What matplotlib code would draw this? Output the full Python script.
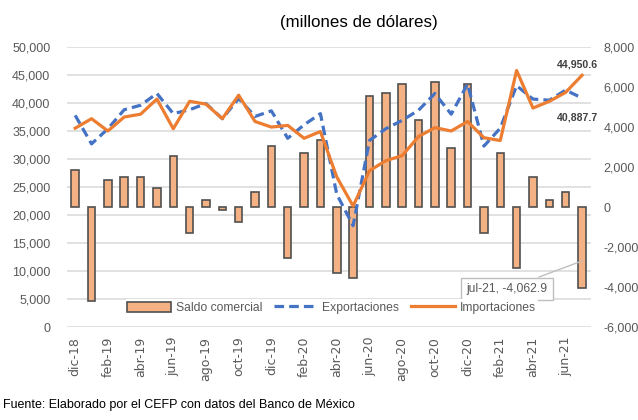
import numpy as np
import matplotlib
matplotlib.use("Agg")
import matplotlib.pyplot as plt
from matplotlib.transforms import blended_transform_factory
from matplotlib.ticker import FuncFormatter

plt.rcParams['font.family'] = ['Liberation Sans', 'DejaVu Sans']

# monthly data, dic-18 .. jul-21 (millones de dolares)
months = ["dic-18", "ene-19", "feb-19", "mar-19", "abr-19", "may-19", "jun-19", "jul-19",
          "ago-19", "sep-19", "oct-19", "nov-19", "dic-19", "ene-20", "feb-20", "mar-20",
          "abr-20", "may-20", "jun-20", "jul-20", "ago-20", "sep-20", "oct-20", "nov-20",
          "dic-20", "ene-21", "feb-21", "mar-21", "abr-21", "may-21", "jun-21", "jul-21"]

exportaciones = [37800, 32700, 35400, 38800, 39600, 41700, 38100, 38800,
                 39900, 37200, 40800, 37600, 38600, 33700, 36100, 38100,
                 23700, 18100, 33300, 35400, 36900, 38700, 41700, 38000,
                 43400, 32300, 35500, 43100, 40700, 40500, 42300, 40887.7]

importaciones = [35500, 37200, 35000, 37500, 38000, 40700, 35400, 40300,
                 39800, 37200, 41400, 36700, 35700, 36000, 33700, 34900,
                 26800, 21600, 27900, 29700, 30600, 34000, 35600, 35000,
                 36700, 33800, 33300, 45800, 39100, 40300, 41900, 44950.6]

saldo = [1850, -4700, 1330, 1500, 1500, 970, 2530, -1300,
         370, -170, -770, 750, 3070, -2550, 2700, 3330,
         -3300, -3550, 5530, 5700, 6170, 4370, 6250, 2970,
         6170, -1280, 2700, -3030, 1500, 330, 770, -4062.9]

left_ticks = np.arange(0, 50001, 5000)
right_ticks = np.arange(-6000, 8001, 2000)

gray = "#595959"
x = np.arange(len(months))

fig = plt.figure(figsize=(6.38, 4.2), dpi=100)
# bars live on the bottom axes (right scale), lines on the twin (left scale)
ax = fig.add_axes([67 / 638, 93 / 420, 524 / 638, 280 / 420])
axl = ax.twinx()
ax.yaxis.tick_right()
ax.yaxis.set_label_position("right")
axl.yaxis.tick_left()
axl.yaxis.set_label_position("left")

# gridlines follow the left scale but sit behind the bars
tr = blended_transform_factory(ax.transAxes, axl.transData)
for v in left_ticks:
    ax.plot([0, 1], [v, v], color="#D9D9D9", lw=1.1, transform=tr, zorder=0)

bars = ax.bar(x, saldo, width=0.46, color="#F4B183", edgecolor="#505050", linewidth=1.2,
              label="Saldo comercial", zorder=2)
l1, = axl.plot(x, exportaciones, color="#4472C4", lw=2.3, ls=(0, (3, 1.6)),
               label="Exportaciones", zorder=3)
l2, = axl.plot(x, importaciones, color="#ED7D31", lw=2.3, label="Importaciones", zorder=3)

ax.set_xlim(-0.5, 31.55)
ax.set_ylim(-6000, 8000)
axl.set_ylim(0, 50000)
ax.set_yticks(right_ticks)
axl.set_yticks(left_ticks)
fmt = FuncFormatter(lambda v, p: f"{v:,.0f}")
ax.yaxis.set_major_formatter(fmt)
axl.yaxis.set_major_formatter(fmt)

ax.set_xticks(x[::2])
ax.set_xticklabels(months[::2], rotation=90, family="DejaVu Sans", fontsize=7.6, color=gray)
for a in (ax, axl):
    for s in a.spines.values():
        s.set_visible(False)
    a.tick_params(length=0, labelsize=9, labelcolor=gray)
ax.tick_params(axis="x", pad=7)
ax.tick_params(axis="y", pad=9)
axl.tick_params(axis="y", pad=12)

# data labels
axl.text(30.7, exportaciones[-1] - 3500, f"{exportaciones[-1]:,.1f}", ha="center",
         va="center", fontsize=7.6, fontweight="bold", color="#404040")
axl.text(30.7, importaciones[-1] + 1900, f"{importaciones[-1]:,.1f}", ha="center",
         va="center", fontsize=7.6, fontweight="bold", color="#404040")
ax.annotate(f"{months[-1]}, {saldo[-1]:,.1f}", xy=(x[-1], -2700),
            xytext=(26.4, -4100), ha="center", va="center", fontsize=8.7, color=gray,
            bbox=dict(boxstyle="square,pad=0.45", fc="white", ec="#BFBFBF", lw=1),
            arrowprops=dict(arrowstyle="-", color="#BFBFBF", lw=1, shrinkA=0, shrinkB=0),
            zorder=5)

leg = axl.legend(handles=[bars, l1, l2], loc="center", bbox_to_anchor=(0.505, 0.068), ncol=3,
                 frameon=True, fontsize=8.7, handlelength=3.6, handleheight=0.9,
                 handletextpad=0.4, columnspacing=1.0, borderpad=0.2)
leg.get_frame().set_facecolor("white")
leg.get_frame().set_edgecolor("none")
leg.get_frame().set_alpha(1)
for t in leg.get_texts():
    t.set_color(gray)

fig.text(0.563, 0.947, "(millones de dólares)", ha="center", va="center", fontsize=12.2,
         color="black")
fig.text(0.005, 0.035, "Fuente: Elaborado por el CEFP con datos del Banco de México",
         ha="left", va="center", fontsize=9, color="black")

fig.savefig("out.png", dpi=100)
